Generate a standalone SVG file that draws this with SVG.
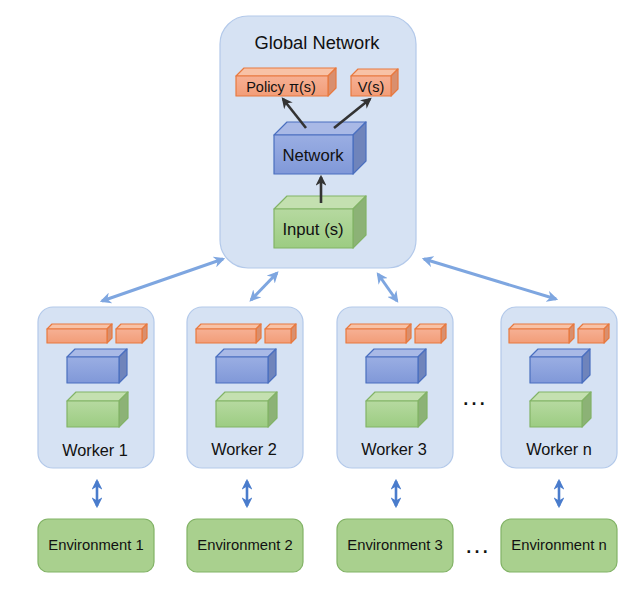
<svg xmlns="http://www.w3.org/2000/svg" width="640" height="596" viewBox="0 0 640 596">
<defs>
<style>
text{font-family:"Liberation Sans",Arial,sans-serif;fill:#111;text-anchor:middle}
.panel{fill:#d6e2f3;stroke:#b3c9ea;stroke-width:1.2}
.env{fill:#a9d08e;stroke:#82b366;stroke-width:1.2}
.o .f{fill:url(#gO);stroke:#e8793f}
.o .t{fill:#f8c2a6;stroke:#e8793f}
.o .s{fill:#d98f6e;stroke:#e8793f}
.b .f{fill:url(#gB);stroke:#4a6fbf}
.b .t{fill:#a9b9e6;stroke:#4a6fbf}
.b .s{fill:#6f84bb;stroke:#4a6fbf}
.g .f{fill:url(#gG);stroke:#82b366}
.g .t{fill:#c4e0b0;stroke:#82b366}
.g .s{fill:#8cb276;stroke:#82b366}
.f,.t,.s{stroke-width:1.2;stroke-linejoin:round}
.dk{stroke:#333;stroke-width:2.6;fill:none;marker-end:url(#mD)}
.lb{stroke:#7ea6e0;stroke-width:3;fill:none;marker-end:url(#mL);marker-start:url(#mL)}
.db{stroke:#4a7ccc;stroke-width:2.6;fill:none;marker-end:url(#mB);marker-start:url(#mB)}
.wl{font-size:16.3px}
.el{font-size:14.8px}
</style>
<linearGradient id="gO" x1="0" y1="0" x2="0" y2="1"><stop offset="0" stop-color="#f6b094"/><stop offset="1" stop-color="#f29d78"/></linearGradient>
<linearGradient id="gB" x1="0" y1="0" x2="0" y2="1"><stop offset="0" stop-color="#9aaee3"/><stop offset="1" stop-color="#8098d8"/></linearGradient>
<linearGradient id="gG" x1="0" y1="0" x2="0" y2="1"><stop offset="0" stop-color="#b6d9a0"/><stop offset="1" stop-color="#9ccc82"/></linearGradient>
<marker id="mD" viewBox="0 0 10 10" refX="8" refY="5" markerWidth="4.2" markerHeight="4.2" orient="auto-start-reverse"><path d="M0,0 L10,5 L0,10 L3,5 Z" fill="#333"/></marker>
<marker id="mL" viewBox="0 0 10 10" refX="8" refY="5" markerWidth="3.8" markerHeight="3.8" orient="auto-start-reverse"><path d="M0,0 L10,5 L0,10 L3,5 Z" fill="#7ea6e0"/></marker>
<marker id="mB" viewBox="0 0 10 10" refX="8" refY="5" markerWidth="4.2" markerHeight="4.2" orient="auto-start-reverse"><path d="M0,0 L10,5 L0,10 L3,5 Z" fill="#4a7ccc"/></marker>
</defs>
<rect width="640" height="596" fill="#fff"/>

<g id="global">
<rect class="panel" x="220" y="16" width="196" height="252" rx="28"/>
<text x="317" y="49" font-size="18.3">Global Network</text>
<g id="policy" class="o">
<path class="t" d="M236,76 L244,68 L336,68 L328,76 Z"/>
<path class="s" d="M328,76 L336,68 L336,88 L328,96 Z"/>
<rect class="f" x="236" y="76" width="92" height="20"/>
<text x="281" y="92" font-size="14.5">Policy π(s)</text>
</g>
<g id="value" class="o">
<path class="t" d="M351,76 L358,69 L398,69 L391,76 Z"/>
<path class="s" d="M391,76 L398,69 L398,89 L391,96 Z"/>
<rect class="f" x="351" y="76" width="40" height="20"/>
<text x="371" y="92" font-size="14.5">V(s)</text>
</g>
<g id="network" class="b">
<path class="t" d="M274,135 L287,122 L366,122 L353,135 Z"/>
<path class="s" d="M353,135 L366,122 L366,161 L353,174 Z"/>
<rect class="f" x="274" y="135" width="79" height="39"/>
<text x="313" y="161" font-size="16.7">Network</text>
</g>
<g id="input" class="g">
<path class="t" d="M274,209 L287,196 L366,196 L353,209 Z"/>
<path class="s" d="M353,209 L366,196 L366,235 L353,248 Z"/>
<rect class="f" x="274" y="209" width="79" height="39"/>
<text x="313" y="235" font-size="16.7">Input (s)</text>
</g>
</g>

<g id="worker1" transform="translate(38,0)">
<rect class="panel" x="0" y="307" width="116" height="161" rx="15"/>
<g class="o"><path class="t" d="M9,329 L14,324 L74,324 L69,329 Z"/><path class="s" d="M69,329 L74,324 L74,338 L69,343 Z"/><rect class="f" x="9" y="329" width="60" height="14"/></g>
<g class="o"><path class="t" d="M78,329 L83,324 L109,324 L104,329 Z"/><path class="s" d="M104,329 L109,324 L109,338 L104,343 Z"/><rect class="f" x="78" y="329" width="26" height="14"/></g>
<g class="b"><path class="t" d="M29,357 L37,349 L89,349 L81,357 Z"/><path class="s" d="M81,357 L89,349 L89,375 L81,383 Z"/><rect class="f" x="29" y="357" width="52" height="26"/></g>
<g class="g"><path class="t" d="M29,401 L38,392 L90,392 L81,401 Z"/><path class="s" d="M81,401 L90,392 L90,418 L81,427 Z"/><rect class="f" x="29" y="401" width="52" height="26"/></g>
<text class="wl" x="57" y="456">Worker 1</text>
</g>

<g id="worker2" transform="translate(187,0)">
<rect class="panel" x="0" y="307" width="116" height="161" rx="15"/>
<g class="o"><path class="t" d="M9,329 L14,324 L74,324 L69,329 Z"/><path class="s" d="M69,329 L74,324 L74,338 L69,343 Z"/><rect class="f" x="9" y="329" width="60" height="14"/></g>
<g class="o"><path class="t" d="M78,329 L83,324 L109,324 L104,329 Z"/><path class="s" d="M104,329 L109,324 L109,338 L104,343 Z"/><rect class="f" x="78" y="329" width="26" height="14"/></g>
<g class="b"><path class="t" d="M29,357 L37,349 L89,349 L81,357 Z"/><path class="s" d="M81,357 L89,349 L89,375 L81,383 Z"/><rect class="f" x="29" y="357" width="52" height="26"/></g>
<g class="g"><path class="t" d="M29,401 L38,392 L90,392 L81,401 Z"/><path class="s" d="M81,401 L90,392 L90,418 L81,427 Z"/><rect class="f" x="29" y="401" width="52" height="26"/></g>
<text class="wl" x="57" y="455">Worker 2</text>
</g>

<g id="worker3" transform="translate(337,0)">
<rect class="panel" x="0" y="307" width="116" height="161" rx="15"/>
<g class="o"><path class="t" d="M9,329 L14,324 L74,324 L69,329 Z"/><path class="s" d="M69,329 L74,324 L74,338 L69,343 Z"/><rect class="f" x="9" y="329" width="60" height="14"/></g>
<g class="o"><path class="t" d="M78,329 L83,324 L109,324 L104,329 Z"/><path class="s" d="M104,329 L109,324 L109,338 L104,343 Z"/><rect class="f" x="78" y="329" width="26" height="14"/></g>
<g class="b"><path class="t" d="M29,357 L37,349 L89,349 L81,357 Z"/><path class="s" d="M81,357 L89,349 L89,375 L81,383 Z"/><rect class="f" x="29" y="357" width="52" height="26"/></g>
<g class="g"><path class="t" d="M29,401 L38,392 L90,392 L81,401 Z"/><path class="s" d="M81,401 L90,392 L90,418 L81,427 Z"/><rect class="f" x="29" y="401" width="52" height="26"/></g>
<text class="wl" x="57" y="455">Worker 3</text>
</g>

<g id="workern" transform="translate(501,0)">
<rect class="panel" x="0" y="307" width="116" height="161" rx="15"/>
<g class="o"><path class="t" d="M8,329 L13,324 L73,324 L68,329 Z"/><path class="s" d="M68,329 L73,324 L73,338 L68,343 Z"/><rect class="f" x="8" y="329" width="60" height="14"/></g>
<g class="o"><path class="t" d="M77,329 L82,324 L108,324 L103,329 Z"/><path class="s" d="M103,329 L108,324 L108,338 L103,343 Z"/><rect class="f" x="77" y="329" width="26" height="14"/></g>
<g class="b"><path class="t" d="M29,357 L37,349 L89,349 L81,357 Z"/><path class="s" d="M81,357 L89,349 L89,375 L81,383 Z"/><rect class="f" x="29" y="357" width="52" height="26"/></g>
<g class="g"><path class="t" d="M29,401 L38,392 L90,392 L81,401 Z"/><path class="s" d="M81,401 L90,392 L90,418 L81,427 Z"/><rect class="f" x="29" y="401" width="52" height="26"/></g>
<text class="wl" x="58" y="455">Worker n</text>
</g>

<g id="env1"><rect class="env" x="38" y="519" width="116" height="53" rx="10"/><text class="el" x="96" y="550">Environment 1</text></g>
<g id="env2"><rect class="env" x="187" y="519" width="116" height="53" rx="10"/><text class="el" x="245" y="550">Environment 2</text></g>
<g id="env3"><rect class="env" x="337" y="519" width="116" height="53" rx="10"/><text class="el" x="395" y="550">Environment 3</text></g>
<g id="envn"><rect class="env" x="501" y="519" width="116" height="53" rx="10"/><text class="el" x="559" y="550">Environment n</text></g>

<text x="474" y="405" font-size="26">…</text>
<text x="477" y="553" font-size="26">…</text>

<g id="connectors">
<line class="dk" x1="306" y1="128" x2="283" y2="99"/>
<line class="dk" x1="334" y1="128" x2="370" y2="99"/>
<line class="dk" x1="321" y1="203" x2="321" y2="177"/>
<line class="lb" x1="102" y1="301" x2="223" y2="259"/>
<line class="lb" x1="251" y1="300" x2="277" y2="273"/>
<line class="lb" x1="378" y1="274" x2="397" y2="301"/>
<line class="lb" x1="424" y1="259" x2="556" y2="299"/>
<line class="db" x1="97" y1="481" x2="97" y2="506"/>
<line class="db" x1="247" y1="481" x2="247" y2="506"/>
<line class="db" x1="396" y1="481" x2="396" y2="506"/>
<line class="db" x1="559" y1="481" x2="559" y2="506"/>
</g>
</svg>
